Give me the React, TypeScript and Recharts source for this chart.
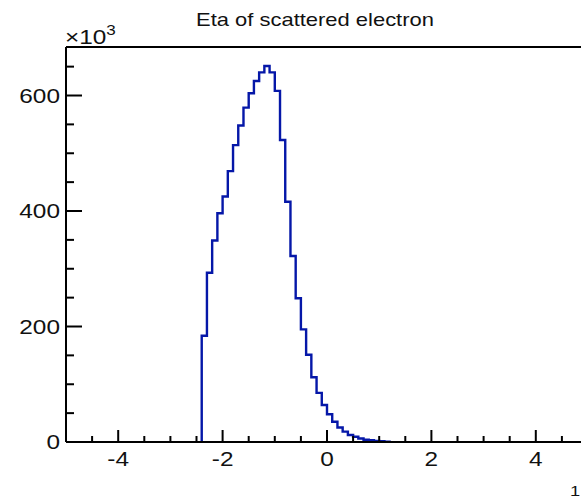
import { LineChart, Line, XAxis, YAxis, ReferenceLine } from 'recharts';

// histogram of eta, 0.1 wide bins, counts in thousands
const binLow = [
  -2.4, -2.3, -2.2, -2.1, -2.0, -1.9, -1.8, -1.7, -1.6, -1.5, -1.4, -1.3,
  -1.2, -1.1, -1.0, -0.9, -0.8, -0.7, -0.6, -0.5, -0.4, -0.3, -0.2, -0.1,
  0.0, 0.1, 0.2, 0.3, 0.4, 0.5, 0.6, 0.7, 0.8, 0.9, 1.0, 1.1,
];
const counts = [
  184, 293, 349, 396, 425, 469, 514, 548, 579, 604, 625, 640,
  651, 640, 608, 523, 416, 322, 249, 195, 151, 112, 85, 64,
  48, 35, 25, 18, 12, 9, 6, 4, 3, 2, 1.2, 0.6,
];
const binWidth = 0.1;

const xTicks = [-5, -4.5, -4, -3.5, -3, -2.5, -2, -1.5, -1, -0.5, 0, 0.5, 1, 1.5, 2, 2.5, 3, 3.5, 4, 4.5, 5];
const xLabels = [-4, -2, 0, 2, 4];
const yTicks = [0, 50, 100, 150, 200, 250, 300, 350, 400, 450, 500, 550, 600, 650];
const yLabels = [0, 200, 400, 600];
const yMax = 684;

const title = 'Eta of scattered electron';

const data = [
  { x: binLow[0], y: 0 },
  ...binLow.map((x, i) => ({ x, y: counts[i] })),
  { x: binLow[binLow.length - 1] + binWidth, y: 0 },
];

const SX = 1.22; // text in the picture is stretched sideways
const FONT = '"Liberation Sans", Arial, sans-serif';
const INK = '#111';

function XTick({ x, y, payload }: any) {
  const v = payload.value;
  const major = xLabels.includes(v);
  return (
    <g>
      <line x1={x} x2={x} y1={y} y2={y - (major ? 12 : 6)} stroke="#000" strokeWidth={2} />
      {major && (
        <text
          transform={`translate(${x},${y + 24}) scale(${SX},1)`}
          textAnchor="middle"
          fontSize={20}
          fontFamily={FONT}
          fill={INK}
        >
          {String(v)}
        </text>
      )}
    </g>
  );
}

function YTick({ x, y, payload }: any) {
  const v = payload.value;
  const major = yLabels.includes(v);
  return (
    <g>
      <line x1={x} x2={x + (major ? 16 : 8)} y1={y} y2={y} stroke="#000" strokeWidth={2} />
      {major && (
        <text
          transform={`translate(${x - 6},${y + 7}) scale(${SX},1)`}
          textAnchor="end"
          fontSize={20}
          fontFamily={FONT}
          fill={INK}
        >
          {String(v)}
        </text>
      )}
    </g>
  );
}

export default function App() {
  return (
    <div
      style={{
        position: 'absolute',
        left: 0,
        top: 0,
        width: 581,
        height: 500,
        overflow: 'hidden',
        background: '#fff',
      }}
    >
      <LineChart width={600} height={500} data={data} margin={{ top: 47, right: 12, bottom: 28, left: 6 }}>
        <XAxis
          dataKey="x"
          type="number"
          domain={[-5, 5]}
          ticks={xTicks}
          interval={0}
          tickSize={0}
          tickMargin={0}
          height={30}
          tick={<XTick />}
          axisLine={{ stroke: '#000', strokeWidth: 2 }}
          tickLine={false}
          allowDataOverflow
        />
        <YAxis
          type="number"
          domain={[0, yMax]}
          ticks={yTicks}
          interval={0}
          tickSize={0}
          tickMargin={0}
          width={60}
          tick={<YTick />}
          axisLine={{ stroke: '#000', strokeWidth: 2 }}
          tickLine={false}
          allowDataOverflow
        />
        <ReferenceLine y={yMax} stroke="#000" strokeWidth={2} />
        <Line
          type="stepAfter"
          dataKey="y"
          stroke="#0517a8"
          strokeWidth={2.4}
          dot={false}
          activeDot={false}
          isAnimationActive={false}
        />
      </LineChart>
      <svg
        width={581}
        height={500}
        style={{ position: 'absolute', left: 0, top: 0, pointerEvents: 'none' }}
      >
        <text
          transform={`translate(315,26) scale(${SX},1)`}
          textAnchor="middle"
          fontSize={18}
          fontFamily={FONT}
          fill={INK}
        >
          {title}
        </text>
        <text transform={`translate(65,44) scale(${SX},1)`} fontSize={20} fontFamily={FONT} fill={INK}>
          ×10
          <tspan fontSize={14} dy={-9}>
            3
          </tspan>
        </text>
        <text transform={`translate(570,496) scale(${SX},1)`} fontSize={15} fontFamily={FONT} fill={INK}>
          1
        </text>
      </svg>
    </div>
  );
}
